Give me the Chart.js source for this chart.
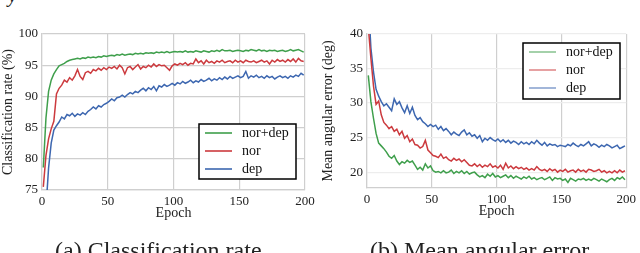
<!DOCTYPE html>
<html>
<head>
<meta charset="utf-8">
<script src="https://cdn.jsdelivr.net/npm/chart.js@4.4.1/dist/chart.umd.min.js"></script>
<style>
    body { margin: 0; background: #fff; }
    #wrap { position: relative; width: 640px; height: 253px; overflow: hidden; }
    .box { position: absolute; top: 0; width: 320px; height: 253px; }
    .caption { position: absolute; top: 237px; font-family: "Liberation Serif", serif; font-size: 24px; color: #222; white-space: nowrap; }
    #topy { position: absolute; left: 8px; top: -16px; font-family: "Liberation Serif", serif; font-size: 20px; font-style: italic; color: #222; }
</style>
</head>
<body>
<div id="wrap">
    <span id="topy">y</span>
    <div class="box" style="left:0"><canvas id="chartRate" width="320" height="253"></canvas></div>
    <div class="box" style="left:320px"><canvas id="chartError" width="320" height="253"></canvas></div>
    <div class="caption" style="left:55px">(a) Classification rate</div>
    <div class="caption" style="left:370px">(b) Mean angular error</div>
</div>
<script>
// epochs (every second epoch)
let epochs = [1,3,5,7,9,11,13,15,17,19,21,23,25,27,29,31,33,35,37,39,
    41,43,45,47,49,51,53,55,57,59,61,63,65,67,69,71,73,75,77,79,
    81,83,85,87,89,91,93,95,97,99,101,103,105,107,109,111,113,115,117,119,
    121,123,125,127,129,131,133,135,137,139,141,143,145,147,149,151,153,155,157,159,
    161,163,165,167,169,171,173,175,177,179,181,183,185,187,189,191,193,195,197,199];

let seriesNames = ['nor+dep', 'nor', 'dep'];
let xTicks = [0, 50, 100, 150, 200];
let rateTicks = [75, 80, 85, 90, 95, 100];
let errorTicks = [20, 25, 30, 35, 40];

// classification rate (%)
let rateNorDep = [78.6,86.5,90.8,92.6,93.6,94.3,94.9,95.1,95.3,95.6,
    95.8,95.9,96.0,96.1,96.0,96.2,96.1,96.3,96.2,96.3,
    96.2,96.4,96.3,96.5,96.4,96.5,96.6,96.5,96.7,96.6,
    96.8,96.6,96.7,96.8,96.7,96.9,96.8,96.9,96.8,97.0,
    96.9,97.0,96.9,97.1,97.0,97.1,97.0,97.2,97.0,97.1,
    97.2,97.1,97.2,97.1,97.3,97.1,97.2,97.1,97.3,97.2,
    97.1,97.3,97.2,97.1,97.3,97.2,97.4,97.2,97.5,97.3,
    97.3,97.4,97.2,97.3,97.4,97.3,97.2,97.4,97.3,97.5,
    97.4,97.3,97.5,97.3,97.4,97.2,97.4,97.3,97.4,97.2,
    97.3,97.4,97.2,97.3,97.5,97.3,97.4,97.5,97.3,97.1];
let rateNor = [75.5,80.5,83.2,84.8,86.0,90.4,91.3,91.8,92.6,92.3,
    93.0,92.6,93.3,94.3,93.2,92.7,93.8,94.0,93.7,94.3,
    94.1,94.5,94.2,94.6,94.3,94.7,94.5,94.8,94.4,95.0,
    94.6,93.6,94.6,94.8,94.3,94.7,95.1,94.4,94.8,94.6,
    95.0,94.7,95.2,94.8,95.1,94.9,95.0,94.6,94.2,94.9,
    95.2,95.0,95.3,95.1,95.4,95.0,95.3,95.2,96.0,95.4,
    95.7,95.2,95.8,95.4,95.6,95.3,95.7,95.5,95.8,95.4,
    95.6,95.7,95.4,95.8,95.5,95.7,95.4,95.8,95.6,95.5,
    95.7,95.4,95.6,95.8,95.5,95.7,95.2,95.8,95.5,95.9,
    95.6,95.8,95.5,95.9,95.6,96.0,95.5,96.1,95.7,95.6];
let rateDep = [66.0,72.0,78.5,82.5,84.6,85.3,85.9,86.7,86.4,87.1,
    86.9,87.3,86.8,87.2,87.0,87.4,87.1,87.6,87.9,88.3,
    88.0,88.5,88.3,88.7,88.9,89.2,89.6,89.3,89.8,89.9,
    90.2,89.9,90.3,90.6,90.4,90.8,90.6,91.0,91.3,90.9,
    91.4,91.1,91.6,90.9,91.7,91.5,91.9,91.6,91.8,92.1,
    91.8,92.2,92.0,92.4,92.1,92.3,92.6,92.2,92.5,92.3,
    92.7,92.4,92.6,92.9,92.5,92.8,92.6,93.0,92.7,93.1,
    92.8,93.2,92.9,93.1,93.3,93.0,93.2,94.0,92.9,93.3,
    93.1,93.4,93.0,93.2,92.9,93.3,93.0,93.2,92.8,93.1,
    93.3,93.0,93.2,92.9,93.3,93.1,93.4,93.2,93.7,93.4];

// mean angular error (deg)
let errorNorDep = [34.0,30.2,27.8,25.6,24.2,23.8,23.4,22.9,22.3,22.0,
    22.4,21.6,21.1,21.5,21.3,21.7,21.4,21.6,21.0,20.4,
    20.7,20.3,21.2,20.6,20.9,20.2,20.0,20.1,19.9,20.2,
    19.9,20.0,20.3,19.8,20.1,19.9,20.2,19.8,20.1,19.7,
    19.9,20.0,19.6,19.3,19.5,19.2,19.7,19.4,19.8,19.3,
    19.5,19.2,19.4,19.6,19.2,19.5,19.1,19.4,19.2,19.0,
    19.3,19.1,19.4,19.0,19.2,18.9,19.1,19.2,18.9,19.1,
    19.3,18.8,19.2,19.0,19.1,18.8,19.0,18.5,19.1,18.9,
    18.7,19.0,18.9,19.1,18.8,19.0,18.8,19.1,18.9,18.7,
    19.0,18.8,18.6,18.9,19.1,18.8,19.2,19.0,19.3,18.9];
let errorNor = [41.0,36.5,32.5,29.8,30.3,28.3,27.2,26.8,26.3,26.6,
    25.9,26.2,25.4,25.9,24.9,25.3,24.4,24.8,24.0,23.9,
    23.5,23.7,24.6,23.2,22.8,22.4,22.3,22.1,22.6,22.0,
    22.2,21.8,21.6,22.0,21.7,21.9,21.5,21.8,21.4,21.0,
    20.9,21.2,20.8,21.1,20.7,21.0,20.8,21.2,20.7,20.9,
    20.6,21.0,20.4,21.3,20.6,20.9,20.5,20.8,20.5,20.7,
    20.4,20.6,20.3,20.5,20.3,20.8,20.4,20.2,20.4,20.1,
    20.5,20.2,20.4,20.0,20.3,20.1,20.4,20.0,20.2,20.3,
    20.0,20.4,20.1,20.3,20.0,20.4,20.3,20.1,20.2,20.4,
    20.0,20.2,19.9,20.1,19.9,20.2,19.9,20.3,20.0,20.2];
let errorDep = [45.0,38.0,34.5,32.0,31.0,30.2,29.6,29.9,29.4,28.9,
    30.6,29.8,30.2,29.3,28.6,29.6,28.5,29.4,28.2,27.6,
    27.9,27.3,27.0,26.6,26.9,26.6,26.8,26.2,26.6,26.0,
    26.3,25.9,25.4,25.8,25.5,25.3,25.8,26.1,25.4,25.7,
    25.2,25.4,24.9,25.3,24.4,24.9,24.6,25.0,24.7,24.5,
    24.8,24.4,24.7,24.3,24.6,24.2,24.5,24.3,24.0,24.4,
    24.1,24.3,24.0,24.4,24.1,24.6,24.2,23.9,24.3,23.8,
    24.1,23.9,24.0,23.7,23.9,23.8,23.7,24.0,23.8,24.2,
    23.9,23.7,24.0,23.8,24.1,24.4,23.8,24.1,23.9,23.6,
    23.9,23.7,24.0,23.8,23.5,23.7,23.9,23.4,23.6,23.8];

let colors = ['#3f9f4c', '#cc3a3e', '#3d67b0'];
let serif = '"Liberation Serif", "DejaVu Serif", serif';

function toPoints(values) {
    return values.map((v, i) => ({ x: epochs[i], y: v }));
}

// legend box drawn inside the plot
function boxLegend(box, legendAlpha) {
    return {
        id: 'boxLegend',
        afterDraw: function (chart) {
            let c = chart.ctx;
            c.save();
            c.fillStyle = '#fff';
            c.fillRect(box.x, box.y, box.w, box.h);
            c.strokeStyle = '#000';
            c.lineWidth = 1.5;
            c.strokeRect(box.x, box.y, box.w, box.h);
            c.font = '14px ' + serif;
            c.textBaseline = 'middle';
            chart.data.datasets.forEach((ds, i) => {
                let y = box.y + 9 + i * 18;
                c.globalAlpha = legendAlpha;
                c.strokeStyle = ds.borderColor;
                c.lineWidth = 1.6;
                c.beginPath();
                c.moveTo(box.x + 6, y);
                c.lineTo(box.x + 33, y);
                c.stroke();
                c.globalAlpha = 1;
                c.fillStyle = '#111';
                c.fillText(ds.label, box.x + 43, y);
            });
            c.restore();
        }
    };
}

function makeChart(id, series, yMin, yMax, yTicks, yTitle, yWidth, hGrid, pad, legend) {
    let ctx = document.getElementById(id);
    return new Chart(ctx, {
        type: 'line',
        data: {
            datasets: series.map((vals, i) => ({
                label: seriesNames[i],
                data: toPoints(vals),
                borderColor: colors[i],
                borderWidth: 1.5,
                pointRadius: 0,
                tension: 0,
                fill: false
            }))
        },
        options: {
            responsive: false,
            animation: false,
            layout: { padding: pad },
            plugins: { legend: { display: false }, tooltip: { enabled: false } },
            scales: {
                x: {
                    type: 'linear',
                    min: 0,
                    max: 200,
                    afterBuildTicks: function (scale) { scale.ticks = xTicks.map(v => ({ value: v })); },
                    afterFit: function (scale) { scale.height = 32; },
                    grid: { color: '#cfcfcf', lineWidth: 1.2, drawTicks: false },
                    border: { color: '#cfcfcf', width: 1.2 },
                    ticks: { color: '#222', font: { family: serif, size: 13 }, padding: 4, maxRotation: 0 },
                    title: { display: true, text: 'Epoch', color: '#222', font: { family: serif, size: 14 }, padding: { top: 0, bottom: 0 } }
                },
                y: {
                    min: yMin,
                    max: yMax,
                    afterBuildTicks: function (scale) { scale.ticks = yTicks.map(v => ({ value: v })); },
                    afterFit: function (scale) { scale.width = yWidth; },
                    grid: { color: hGrid, lineWidth: 1.2, drawTicks: false },
                    border: { color: '#cfcfcf', width: 1.2 },
                    ticks: { color: '#222', font: { family: serif, size: 13 }, padding: 4 },
                    title: { display: true, text: yTitle, color: '#222', font: { family: serif, size: 14 }, padding: { top: 0, bottom: 1 } }
                }
            }
        },
        plugins: [legend]
    });
}

makeChart('chartRate', [rateNorDep, rateNor, rateDep], 75, 100, rateTicks,
    'Classification rate (%)', 42, '#cfcfcf',
    { left: 0, right: 15, top: 34, bottom: 31 },
    boxLegend({ x: 199, y: 124, w: 97, h: 55 }, 1));

makeChart('chartError', [errorNorDep, errorNor, errorDep], 17.7, 40, errorTicks,
    'Mean angular error (deg)', 47, '#ededed',
    { left: 0, right: 10, top: 34, bottom: 33 },
    boxLegend({ x: 203, y: 43, w: 97, h: 56 }, 0.6));
</script>
</body>
</html>
